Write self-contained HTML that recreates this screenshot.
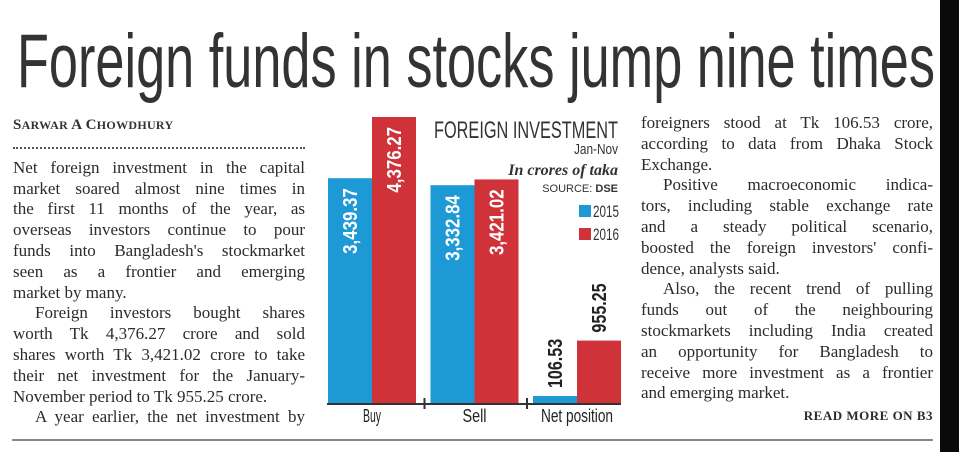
<!DOCTYPE html>
<html><head><meta charset="utf-8">
<style>
html,body{margin:0;padding:0;background:#fff;}
body{width:959px;height:452px;position:relative;overflow:hidden;}
.col{position:absolute;font-family:"Liberation Serif",serif;font-size:17px;color:#2b2b2b;}
.col div{height:20.8px;line-height:20.8px;white-space:nowrap;}
.j{text-align:justify;text-align-last:justify;white-space:normal!important;}
.ind{padding-left:22px;}
</style></head>
<body>
<div style="position:absolute;left:940px;top:0;width:19px;height:452px;background:#0a0a0a"></div>
<svg width="959" height="110" style="position:absolute;left:0;top:0">
<text x="17" y="87" font-family="Liberation Sans, sans-serif" font-size="76" fill="#333" textLength="918" lengthAdjust="spacingAndGlyphs">Foreign funds in stocks jump nine times</text>
</svg>

<div class="col" style="left:13px;top:115px;width:292px;">
<div style="font-size:15px;font-weight:bold;letter-spacing:0.3px;color:#333">S<span style="font-size:12px">ARWAR</span> A C<span style="font-size:12px">HOWDHURY</span></div>
<div style="height:2px;border-top:2px dotted #555;margin:11px 0 7px 0;"></div>
<div class="j">Net foreign investment in the capital</div>
<div class="j">market soared almost nine times in</div>
<div class="j">the first 11 months of the year, as</div>
<div class="j">overseas investors continue to pour</div>
<div class="j">funds into Bangladesh's stockmarket</div>
<div class="j">seen as a frontier and emerging</div>
<div>market by many.</div>
<div class="j ind">Foreign investors bought shares</div>
<div class="j">worth Tk 4,376.27 crore and sold</div>
<div class="j">shares worth Tk 3,421.02 crore to take</div>
<div class="j">their net investment for the January-</div>
<div>November period to Tk 955.25 crore.</div>
<div class="j ind">A year earlier, the net investment by</div>
</div>

<div class="col" style="left:641px;top:113px;width:292px;">
<div class="j">foreigners stood at Tk 106.53 crore,</div>
<div class="j">according to data from Dhaka Stock</div>
<div>Exchange.</div>
<div class="j ind">Positive macroeconomic indica-</div>
<div class="j">tors, including stable exchange rate</div>
<div class="j">and a steady political scenario,</div>
<div class="j">boosted the foreign investors' confi-</div>
<div>dence, analysts said.</div>
<div class="j ind">Also, the recent trend of pulling</div>
<div class="j">funds out of the neighbouring</div>
<div class="j">stockmarkets including India created</div>
<div class="j">an opportunity for Bangladesh to</div>
<div class="j">receive more investment as a frontier</div>
<div>and emerging market.</div>
<div style="text-align:right;font-size:13px;font-weight:bold;letter-spacing:0.5px;margin-top:2px">READ MORE ON B3</div>
</div>

<div style="position:absolute;left:12px;top:439px;width:921px;height:2px;background:#888"></div>

<svg id="chart" width="959" height="452" style="position:absolute;left:0;top:0"></svg>

<script>
const categories = ["Buy", "Sell", "Net position"];
const values2015 = [3439.37, 3332.84, 106.53];
const values2016 = [4376.27, 3421.02, 955.25];
const labels2015 = ["3,439.37", "3,332.84", "106.53"];
const labels2016 = ["4,376.27", "3,421.02", "955.25"];
const seriesNames = ["2015", "2016"];

const NS = "http://www.w3.org/2000/svg";
const svg = document.getElementById("chart");
const baseY = 403, plotH = 286, maxV = 4376.27;
const groupX0 = 328, groupStep = 102.5, barW = 44;
const colors = ["#1d9ad6", "#d0323a"];
function y(v){ return baseY - v / maxV * plotH; }
function gx(i){ return groupX0 + i * groupStep; }
function mk(tag, attrs){ const e = document.createElementNS(NS, tag); for (const k in attrs) e.setAttribute(k, attrs[k]); svg.appendChild(e); return e; }
const cond = "Liberation Sans, sans-serif";

categories.forEach((c, i) => {
  [values2015, values2016].forEach((vals, s) => {
    const x = gx(i) + s * barW;
    const r = mk("rect", {x: x, y: y(vals[i]), width: barW, height: baseY - y(vals[i]), fill: colors[s]});
    
    
    const lbl = (s === 0 ? labels2015 : labels2016)[i];
    const h = baseY - y(vals[i]);
    const inside = h > 120;
    const cx = x + barW / 2 + 7;
    const ty = inside ? y(vals[i]) + 10 : y(vals[i]) - 8;
    const t = mk("text", {x: 0, y: 0, transform: "translate(" + cx + "," + ty + ") rotate(-90)",
      "text-anchor": inside ? "end" : "start", "font-family": cond, "font-weight": "bold", "font-size": 20,
      fill: inside ? "#fff" : "#222", textLength: lbl.length * 8.2, lengthAdjust: "spacingAndGlyphs"});
    t.textContent = lbl;
    
    
  });
  const cl = mk("text", {x: gx(i) + barW, y: 422, "text-anchor": "middle", "font-family": cond, "font-size": 18, fill: "#222", textLength: c.length * 6, lengthAdjust: "spacingAndGlyphs"});
  cl.textContent = c;
  
  
  if (i > 0) {
    const tk = mk("line", {x1: gx(i) - 6, x2: gx(i) - 6, y1: 398, y2: 409, stroke: "#333", "stroke-width": 2});
    
    
  }
});
const ax = mk("line", {x1: 327, x2: 621, y1: baseY + 1, y2: baseY + 1, stroke: "#333", "stroke-width": 2});



const t1 = mk("text", {x: 434, y: 138, "font-family": cond, "font-size": 24, fill: "#333", textLength: 184, lengthAdjust: "spacingAndGlyphs"});
t1.textContent = "FOREIGN INVESTMENT";


const t2 = mk("text", {x: 618, y: 154, "text-anchor": "end", "font-family": cond, "font-size": 15, fill: "#333", textLength: 44, lengthAdjust: "spacingAndGlyphs"});
t2.textContent = "Jan-Nov";


const t3 = mk("text", {x: 618, y: 175, "text-anchor": "end", "font-family": "Liberation Serif, serif", "font-style": "italic", "font-weight": "bold", "font-size": 16, fill: "#333"});
t3.textContent = "In crores of taka";


const t4 = mk("text", {x: 618, y: 192, "text-anchor": "end", "font-family": "Liberation Sans, sans-serif", "font-size": 11, fill: "#333"});
t4.innerHTML = 'SOURCE: <tspan font-weight="bold">DSE</tspan>';



seriesNames.forEach((n, s) => {
  const ly = 205 + s * 23;
  const sq = mk("rect", {x: 579, y: ly, width: 12, height: 12, fill: colors[s]});
  
  
  const lt = mk("text", {x: 593, y: ly + 12, "font-family": cond, "font-size": 17, fill: "#333", textLength: 26, lengthAdjust: "spacingAndGlyphs"});
  lt.textContent = n;
  
  
});
</script>
</body></html>
